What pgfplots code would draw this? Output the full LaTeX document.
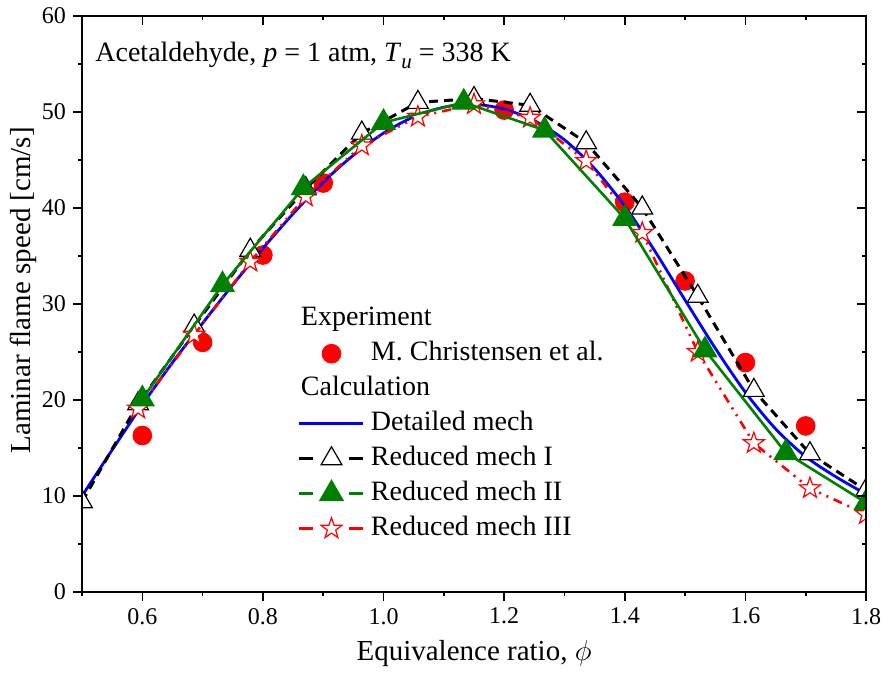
\documentclass[border=0pt]{standalone}
\usepackage{fontspec}
\setmainfont{Liberation Serif}
\usepackage{pgfplots}
\pgfplotsset{compat=1.18}
\definecolor{mblue}{RGB}{0,0,255}
\definecolor{mgreen}{RGB}{0,128,0}
\definecolor{mred}{RGB}{255,0,0}

\pgfdeclareplotmark{ostar}{%
  \pgfpathmoveto{\pgfpointpolar{90}{\pgfplotmarksize}}%
  \pgfpathlineto{\pgfpointpolar{126}{0.40\pgfplotmarksize}}%
  \pgfpathlineto{\pgfpointpolar{162}{\pgfplotmarksize}}%
  \pgfpathlineto{\pgfpointpolar{198}{0.40\pgfplotmarksize}}%
  \pgfpathlineto{\pgfpointpolar{234}{\pgfplotmarksize}}%
  \pgfpathlineto{\pgfpointpolar{270}{0.40\pgfplotmarksize}}%
  \pgfpathlineto{\pgfpointpolar{306}{\pgfplotmarksize}}%
  \pgfpathlineto{\pgfpointpolar{342}{0.40\pgfplotmarksize}}%
  \pgfpathlineto{\pgfpointpolar{18}{\pgfplotmarksize}}%
  \pgfpathlineto{\pgfpointpolar{54}{0.40\pgfplotmarksize}}%
  \pgfpathclose
  \pgfusepathqfillstroke
}

\pgfplotstableread{
x y
0.6 16.3
0.7 26.0
0.8 35.1
0.9 42.6
1.2 50.2
1.4 40.6
1.5 32.4
1.6 23.9
1.7 17.3
}\expdata

\pgfplotstableread{
x y
0.50 10.0
0.55 14.8
0.60 19.5
0.65 23.9
0.70 28.0
0.75 32.0
0.80 35.8
0.85 39.4
0.90 42.7
0.95 45.5
1.00 47.8
1.05 49.5
1.10 50.5
1.15 50.8
1.20 50.3
1.25 49.1
1.30 47.1
1.35 44.1
1.40 40.2
1.45 35.5
1.50 30.4
1.55 25.4
1.60 20.8
1.65 17.0
1.70 14.1
1.75 12.0
1.80 10.2
}\detailed

\pgfplotstableread{
x y
0.500 9.4
0.593 19.6
0.686 27.7
0.779 35.6
0.871 42.0
0.964 47.8
1.057 51.0
1.150 51.4
1.243 50.7
1.336 46.8
1.429 40.0
1.521 30.8
1.614 21.0
1.707 14.4
1.800 10.6
}\redI

\pgfplotstableread{
x y
0.600 20.1
0.733 32.0
0.867 42.1
1.000 48.9
1.133 51.0
1.267 48.1
1.400 38.9
1.533 25.2
1.667 14.5
1.800 9.3
}\redII

\pgfplotstableread{
x y
0.593 19.1
0.686 26.8
0.779 34.4
0.871 41.2
0.964 46.5
1.057 49.5
1.150 50.8
1.243 49.4
1.336 44.9
1.429 37.4
1.521 25.0
1.614 15.5
1.707 10.8
1.800 8.1
}\redIII

\pgfplotsset{
  common/.style={
    width=392pt, height=288pt, scale only axis,
    xmin=0.5, xmax=1.8, ymin=0, ymax=60,
    axis line style={line width=0.8pt},
    xtick={0.6,0.8,1.0,1.2,1.4,1.6,1.8},
    minor xtick={0.5,0.7,0.9,1.1,1.3,1.5,1.7},
    ytick={0,10,20,30,40,50,60},
    minor ytick={5,15,25,35,45,55},
    major tick length=4.5pt, minor tick length=2pt,
    every tick/.style={black, line width=0.8pt},
  },
  gapleg/.style={legend image code/.code={
    \draw[##1,mark=none] (0pt,0pt) -- (7pt,0pt);
    \draw[##1,mark=none] (25pt,0pt) -- (32pt,0pt);
    \draw[##1] plot coordinates {(16pt,0pt)};
  }},
  lineleg/.style={legend image code/.code={
    \draw[##1] (0pt,0pt) -- (32pt,0pt);
  }},
  markleg/.style={legend image code/.code={
    \draw[##1] plot coordinates {(16pt,0pt)};
  }},
}

\begin{document}
\begin{tikzpicture}
\begin{axis}[common,
    clip marker paths=true,
    xtick pos=bottom, ytick pos=left, tick align=outside,
    xticklabels={0.6,0.8,1.0,1.2,1.4,1.6,1.8},
    /pgf/number format/assume math mode=true,
    tick label style={font=\fontsize{12}{14}\selectfont},
    label style={font=\fontsize{14.5}{17}\selectfont},
    xlabel={Equivalence ratio, $\phi$},
    ylabel={Laminar flame speed [cm/s]},
    xlabel style={at={(axis description cs:0.5,-0.106)}, anchor=center},
    ylabel style={at={(axis description cs:-0.075,0.524)}, anchor=center},
    legend cell align=left,
    legend style={at={(0.2755,0.497)}, anchor=north west, draw=none, fill=none,
      inner sep=0pt, outer sep=0pt,
      font=\fontsize{14}{16}\selectfont,
      nodes={inner xsep=3pt, inner ysep=0pt, text height=10pt, text depth=3pt},
      row sep=4.5pt},
  ]
  % experiment
  \addplot[only marks, mark=*, mark size=4.7pt, mark options={draw=mred, fill=mred}, forget plot] table {\expdata};
  % detailed
  \addplot[mblue, line width=1.4pt, smooth, no markers, forget plot] table {\detailed};
  % reduced I
  \addplot[black, line width=1.5pt, dash pattern=on 4.5pt off 3pt, mark=triangle*, mark size=6pt,
    mark options={solid, fill=white, draw=black, line width=0.6pt}, forget plot] table {\redI};
  % reduced III
  \addplot[mred, line width=1.3pt, dash pattern=on 4.5pt off 3pt on 1pt off 3pt on 1pt off 3pt, mark=ostar, mark size=5.5pt,
    mark options={solid, fill=white, draw=mred, line width=0.6pt}, forget plot] table {\redIII};
  % reduced II
  \addplot[mgreen, line width=1.3pt, mark=triangle*, mark size=6pt,
    mark options={solid, fill=mgreen, draw=mgreen}, forget plot] table {\redII};

  \addlegendimage{empty legend}
  \addlegendentry{\hspace{-35pt}Experiment}
  \addlegendimage{only marks, mark=*, mark size=4.7pt, mark options={draw=mred, fill=mred}, markleg}
  \addlegendentry{M. Christensen et al.}
  \addlegendimage{empty legend}
  \addlegendentry{\hspace{-35pt}Calculation}
  \addlegendimage{mblue, line width=1.4pt, lineleg}
  \addlegendentry{Detailed mech}
  \addlegendimage{black, line width=1.5pt, mark=triangle*, mark size=6pt,
    mark options={solid, fill=white, draw=black, line width=0.6pt}, gapleg}
  \addlegendentry{Reduced mech I}
  \addlegendimage{mgreen, line width=1.3pt, mark=triangle*, mark size=6pt,
    mark options={solid, fill=mgreen, draw=mgreen}, gapleg}
  \addlegendentry{Reduced mech II}
  \addlegendimage{mred, line width=1.3pt, mark=ostar, mark size=5.5pt,
    mark options={solid, fill=white, draw=mred, line width=0.6pt}, gapleg}
  \addlegendentry{Reduced mech III}

  \node[anchor=west, inner sep=0pt, font=\fontsize{14}{16}\selectfont] at (rel axis cs:0.0166,0.932)
    {Acetaldehyde, \textit{p} = 1 atm, \textit{T}\raisebox{-3.5pt}{\fontsize{10.5}{12}\selectfont\textit{u}} = 338 K};
\end{axis}
\begin{axis}[common,
    xtick pos=top, ytick pos=right, tick align=inside,
    xticklabels={}, yticklabels={},
  ]
\end{axis}
\coordinate (bl) at ([xshift=-41pt,yshift=-40.5pt]current axis.south west);
\coordinate (tr) at ([xshift=8pt,yshift=8pt]current axis.north east);
\pgfresetboundingbox
\useasboundingbox (bl) rectangle (tr);
\end{tikzpicture}
\end{document}
